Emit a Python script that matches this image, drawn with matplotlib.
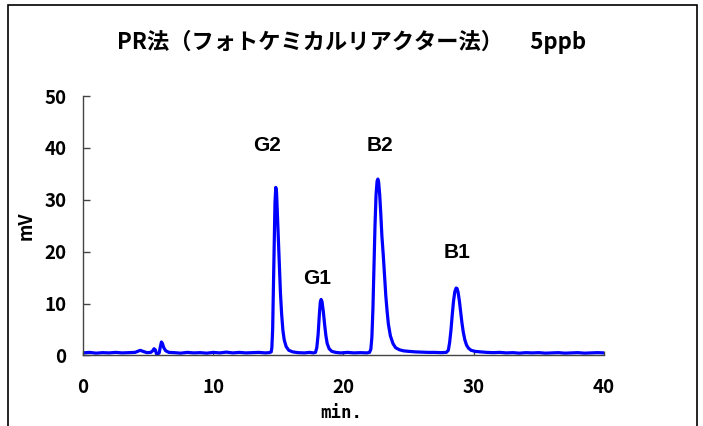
import matplotlib
matplotlib.use('Agg')
import matplotlib.pyplot as plt
from matplotlib.patches import Rectangle

# chromatogram trace (min, mV)
time_min = [
    0.0, 0.5, 1.0, 1.5, 2.0, 2.5, 3.0, 3.5, 4.0, 4.2,
    4.4, 4.6, 4.9, 5.2, 5.35, 5.45, 5.55, 5.65, 5.75, 5.85,
    5.93, 6.02, 6.1, 6.2, 6.35, 6.6, 7.0, 7.5, 8.0, 8.5,
    9.0, 9.5, 10.0, 10.5, 11.0, 11.5, 12.0, 12.5, 13.0, 13.5,
    14.0, 14.3, 14.45, 14.5, 14.56, 14.62, 14.68, 14.74, 14.8, 14.86,
    14.93, 15.0, 15.08, 15.16, 15.25, 15.35, 15.45, 15.6, 15.8, 16.1,
    16.5, 17.0, 17.4, 17.7, 17.85, 17.95, 18.05, 18.15, 18.22, 18.28,
    18.35, 18.45, 18.55, 18.65, 18.75, 18.9, 19.1, 19.4, 19.8, 20.3,
    20.8, 21.3, 21.8, 22.0, 22.1, 22.18, 22.26, 22.34, 22.42, 22.5,
    22.58, 22.64, 22.7, 22.78, 22.86, 22.95, 23.05, 23.15, 23.25, 23.35,
    23.45, 23.6, 23.8, 24.0, 24.3, 24.6, 25.0, 25.5, 26.0, 26.5,
    27.0, 27.5, 27.9, 28.05, 28.15, 28.25, 28.35, 28.45, 28.55, 28.65,
    28.72, 28.8, 28.9, 29.0, 29.1, 29.2, 29.32, 29.45, 29.6, 29.8,
    30.1, 30.5, 31.0, 31.5, 32.0, 32.5, 33.0, 33.5, 34.0, 34.5,
    35.0, 35.5, 36.0, 36.5, 37.0, 37.5, 38.0, 38.5, 39.0, 39.5, 40.0,
]
signal_mv = [
    0.5, 0.6, 0.45, 0.55, 0.5, 0.6, 0.5, 0.55, 0.6, 0.8,
    1.0, 0.8, 0.55, 0.6, 0.9, 1.3, 1.1, 0.25, 0.3, 0.5,
    1.6, 2.6, 2.3, 1.5, 0.9, 0.6, 0.55, 0.45, 0.6, 0.5,
    0.55, 0.45, 0.6, 0.5, 0.65, 0.5, 0.6, 0.5, 0.55, 0.6,
    0.5, 0.55, 0.7, 1.5, 5.0, 13.0, 22.0, 29.5, 32.4, 31.5,
    27.0, 22.0, 17.0, 12.0, 8.0, 4.8, 3.0, 1.7, 1.0, 0.7,
    0.55, 0.5, 0.6, 0.5, 0.6, 1.5, 4.0, 8.0, 10.3, 10.8,
    10.4, 8.5, 6.0, 3.8, 2.3, 1.3, 0.8, 0.6, 0.5, 0.6,
    0.5, 0.55, 0.5, 0.6, 1.2, 3.5, 9.0, 17.0, 25.0, 31.0,
    33.6, 34.0, 33.4, 31.0, 27.5, 23.0, 19.5, 15.5, 11.5, 8.5,
    6.0, 3.8, 2.3, 1.5, 1.1, 0.9, 0.8, 0.7, 0.65, 0.6,
    0.6, 0.55, 0.6, 1.0, 2.5, 4.8, 7.8, 10.5, 12.3, 13.0,
    12.9, 12.2, 10.5, 8.3, 6.2, 4.5, 3.0, 2.0, 1.4, 1.0,
    0.8, 0.7, 0.6, 0.55, 0.6, 0.5, 0.55, 0.45, 0.55, 0.5,
    0.55, 0.45, 0.5, 0.55, 0.45, 0.5, 0.55, 0.45, 0.5, 0.55, 0.5,
]
assert len(time_min) == len(signal_mv)

peak_names = ['G2', 'G1', 'B2', 'B1']
peak_label_x = [14.1, 17.95, 22.8, 28.75]
peak_label_y = [40.5, 14.9, 40.5, 19.9]

x_ticks = [0, 10, 20, 30, 40]
y_ticks = [0, 10, 20, 30, 40, 50]

jp = 'Noto Sans CJK JP'
plt.rcParams['font.family'] = [jp, 'DejaVu Sans']

fig = plt.figure(figsize=(7.03, 4.26), dpi=100)
ax = fig.add_axes([0.1181, 0.1655, 0.741, 0.609])

ax.plot(time_min, signal_mv, color='#0000ff', lw=2.3, solid_joinstyle='round')

for name, lx, ly in zip(peak_names, peak_label_x, peak_label_y):
    ax.text(lx, ly, name, ha='center', va='center', fontsize=15,
            fontweight='bold', family='Liberation Sans')

ax.set_xlim(0, 40)
ax.set_ylim(0, 50)
ax.set_xticks(x_ticks)
ax.set_yticks(y_ticks)
for s in ['top', 'right']:
    ax.spines[s].set_visible(False)
for s in ['left', 'bottom']:
    ax.spines[s].set_color('#444444')
    ax.spines[s].set_linewidth(1.0)
ax.tick_params(axis='y', direction='in', length=5, width=1, color='#444444',
               pad=12, labelsize=13.5)
ax.tick_params(axis='x', direction='in', length=3, width=1, color='#444444',
               pad=16, labelsize=13.5)
for lab in ax.get_xticklabels() + ax.get_yticklabels():
    lab.set_fontweight('bold')

fig.text(0.037, 0.47, 'mV', rotation=90, ha='center', va='center',
         fontsize=13, fontweight='bold')
fig.text(0.486, 0.031, 'min.', ha='center', va='center', fontsize=12.5,
         fontweight='bold', family='DejaVu Sans Mono')

fig.text(0.5, 0.901, 'PR法（フォトケミカルリアクター法）　 5ppb', ha='center',
         va='center', fontsize=16, fontweight='bold')

# outer frame (open at the bottom like the original crop)
fig.patches.append(Rectangle((0.0114, -0.1), 0.980, 1.088, transform=fig.transFigure,
                             fill=False, edgecolor='black', lw=1.2, clip_on=False))

fig.savefig('out.png', dpi=100)
